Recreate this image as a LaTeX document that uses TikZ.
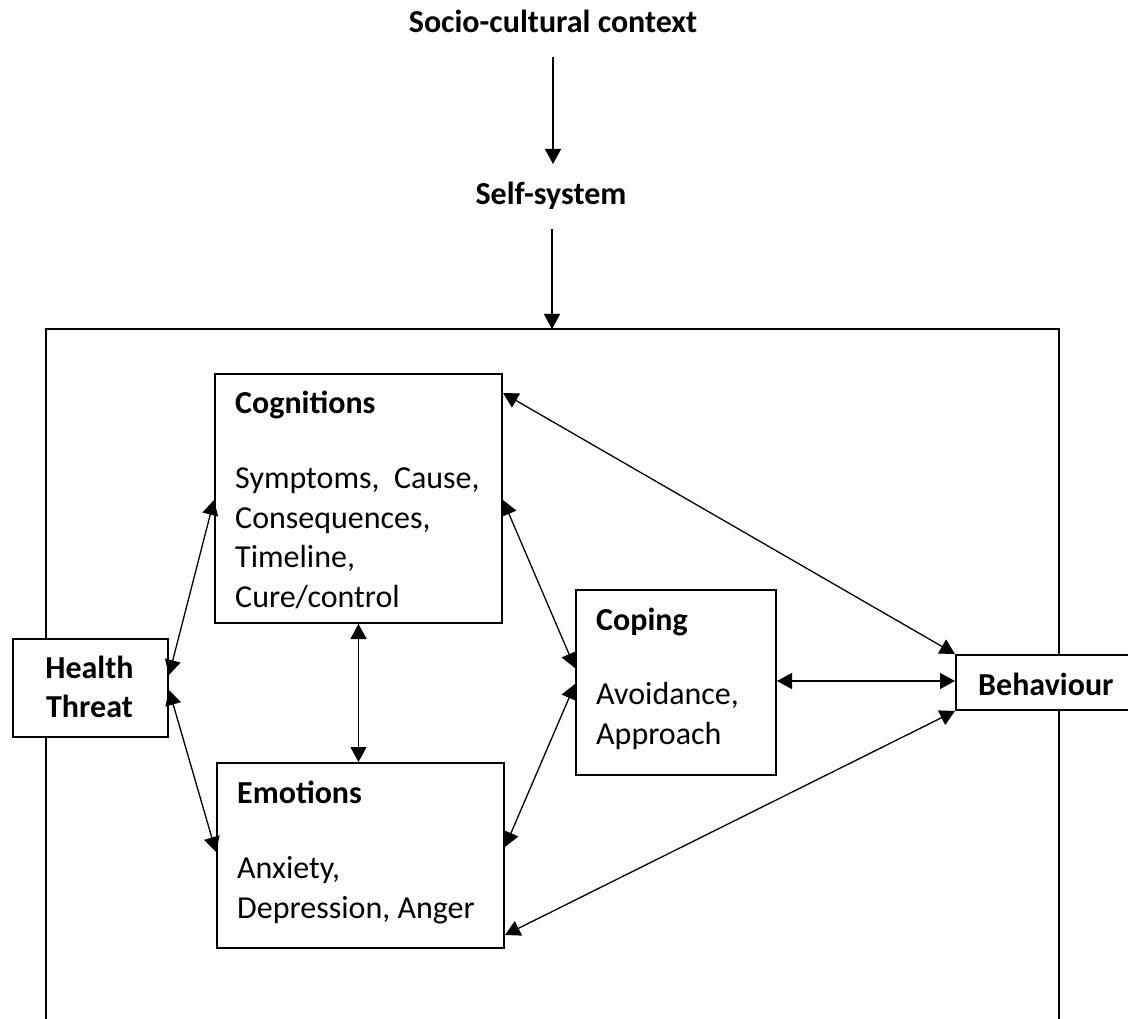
\documentclass[tikz,border=0pt]{standalone}
\usepackage{fontspec}
\setmainfont{Carlito}
\usetikzlibrary{arrows.meta,calc}
\tikzset{
  tip/.tip={Triangle[length=15pt,width=16pt]},
  box/.style={draw, line width=2pt, fill=white, inner sep=0pt, anchor=north west},
  link/.style={line width=1.3pt, tip-tip},
  flow/.style={line width=1.3pt, -tip},
  frame/.style={line width=2.7pt},
  txt/.style={anchor=base west, inner sep=0pt, align=left,
              font=\fontsize{32}{39.5}\selectfont},
  head/.style={txt, font=\fontsize{32}{39}\selectfont\bfseries},
}
\begin{document}
\begin{tikzpicture}[x=1pt,y=-1pt]
\useasboundingbox (0,0) rectangle (1128,1019);

% context chain above the frame (multi-line nodes sit on their last baseline)
\node[head, anchor=base] (soc) at (553,33) {Socio-cultural context};
\node[head, anchor=base] (self) at (551,205) {Self-system};
\coordinate (ftop) at (552,329);
\draw[flow] (soc.south |- 0,57) -- (soc.south |- 0,164);
\draw[flow] (self.south -| ftop) ++(0,19) -- (ftop);

% open frame
\draw[frame] (46,1030) -- (46,329) -- (1059,329) -- (1059,1030);

% boxes
\node[box, minimum width=287pt, minimum height=249pt] (cog) at (214,373) {};
\node[box, minimum width=287pt, minimum height=185pt] (emo) at (216,762) {};
\node[box, minimum width=200pt, minimum height=185pt] (cop) at (575,589) {};
\node[box, minimum width=155pt, minimum height=98pt] (ht) at (12,638) {};
\node[box, minimum width=190pt, minimum height=55pt] (beh) at (955,654) {};

% box texts
\node[head] (cogt) at (235,413) {Cognitions};
\node[txt] (cogb) at (235,607) {Symptoms,~~Cause,\\Consequences,\\Timeline,\\Cure/control};
\node[head] (emot) at (237,803) {Emotions};
\node[txt] (emob) at (237,918) {Anxiety,\\Depression, Anger};
\node[head] (copt) at (596,630) {Coping};
\node[txt] (copb) at (596,744) {Avoidance,\\Approach};
\node[head, anchor=base, align=center] (htt) at (89.5,717) {Health\\Threat};
\node[head] (beht) at (978,695) {Behaviour};

% connectors
\draw[link] (ht.east |- 0,675) -- (cog.west |- 0,500);
\draw[link] (ht.east |- 0,690) -- (emo.west |- 0,852);
\draw[link] (cog.south) -- (cog.south |- emo.north);
\draw[link] (cog.east |- 0,500) -- (cop.west |- 0,668);
\draw[link] (emo.east |- 0,847) -- (cop.west |- 0,684);
\draw[link] (cog.east |- 0,393) -- (beh.north west);
\draw[link] (cop.east |- 0,681) -- (beh.west |- 0,681);
\draw[link] (emo.east |- 0,935) -- (beh.south west);
\end{tikzpicture}
\end{document}
